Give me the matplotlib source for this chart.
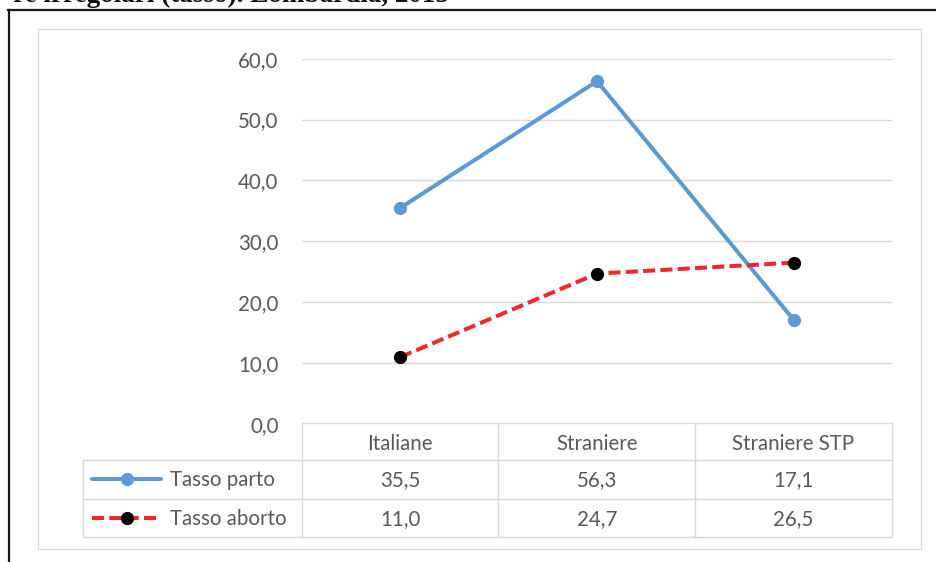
import matplotlib
matplotlib.use("Agg")
import matplotlib.pyplot as plt
from matplotlib.lines import Line2D
from matplotlib.patches import Rectangle

categories = ["Italiane", "Straniere", "Straniere STP"]
series_names = ["Tasso parto", "Tasso aborto"]
tasso_parto = [35.5, 56.3, 17.1]
tasso_aborto = [11.0, 24.7, 26.5]
yticks = [0, 10, 20, 30, 40, 50, 60]
title = "re irregolari (tasso). Lombardia, 2015"

W, H = 937, 562
fig = plt.figure(figsize=(W / 100, H / 100), dpi=100)
FONT = "Lato"
FS = 14.8
GRAY_TXT = "#595959"
GRID = "#D9D9D9"
BLUE = "#5B9BD5"
RED = "#F02828"
DASH = (0, (3.0, 1.3))


def fx(px):
    return px / W


def fy(py):
    return 1 - py / H


# outer black frame (top and left visible)
fig.add_artist(Line2D([fx(8), fx(937)], [fy(10), fy(10)], color="#1a1a1a", lw=1.6))
fig.add_artist(Line2D([fx(9), fx(9)], [fy(10), fy(562)], color="#1a1a1a", lw=1.6))
# cut-off title (only its lower part is visible in the original)
fig.text(fx(13), fy(1.5), title, fontsize=19.5, fontweight="bold",
         family="Liberation Serif", color="#111111", va="baseline", ha="left")

# chart area border
fig.add_artist(Rectangle((fx(38), fy(549)), fx(921) - fx(38), fy(29) - fy(549),
                         fill=False, ec=GRID, lw=1.0))

# plot axes
x0, x1 = 302, 892
y0, y1 = 424, 58.7
ax = fig.add_axes([fx(x0), fy(y0), fx(x1) - fx(x0), fy(y1) - fy(y0)])
ax.set_xlim(-0.5, len(categories) - 0.5)
ax.set_ylim(0, 60)
for s in ax.spines.values():
    s.set_visible(False)
ax.set_xticks([])
ax.set_yticks(yticks)
ax.set_yticklabels([f"{v:.1f}".replace(".", ",") for v in yticks],
                   fontsize=FS, family=FONT, color=GRAY_TXT)
ax.tick_params(axis="y", length=0, pad=17)
ax.grid(axis="y", color=GRID, lw=1.0)
ax.set_axisbelow(True)
xs = list(range(len(categories)))
ax.plot(xs, tasso_parto, color=BLUE, lw=2.9, marker="o", ms=8.5,
        mfc=BLUE, mec=BLUE, solid_capstyle="round", clip_on=False)
ax.plot(xs, tasso_aborto, color=RED, lw=2.9, ls=DASH, marker="o", ms=8.5,
        mfc="black", mec="black", clip_on=False)

# data table
col_edges = [302, 498.5, 695, 892]
legend_left = 83
row_edges = [423, 460, 498.5, 537]
lkw = dict(color=GRID, lw=1.0)
fig.add_artist(Line2D([fx(col_edges[0]), fx(col_edges[-1])], [fy(row_edges[0])] * 2, **lkw))
for r in row_edges[1:]:
    fig.add_artist(Line2D([fx(legend_left), fx(col_edges[-1])], [fy(r)] * 2, **lkw))
for c in col_edges:
    fig.add_artist(Line2D([fx(c)] * 2, [fy(row_edges[0]), fy(row_edges[-1])], **lkw))
fig.add_artist(Line2D([fx(legend_left)] * 2, [fy(row_edges[1]), fy(row_edges[-1])], **lkw))

tkw = dict(fontsize=FS, family=FONT, color=GRAY_TXT, ha="center", va="center")
for i, cat in enumerate(categories):
    cx = (col_edges[i] + col_edges[i + 1]) / 2
    fig.text(fx(cx), fy((row_edges[0] + row_edges[1]) / 2 + 2), cat, **tkw)
    fig.text(fx(cx), fy((row_edges[1] + row_edges[2]) / 2 + 1), f"{tasso_parto[i]:.1f}".replace(".", ","), **tkw)
    fig.text(fx(cx), fy((row_edges[2] + row_edges[3]) / 2 + 1), f"{tasso_aborto[i]:.1f}".replace(".", ","), **tkw)

# legend keys in table
styles = [dict(color=BLUE, ls="-", mfc=BLUE, mec=BLUE),
          dict(color=RED, ls=DASH, mfc="black", mec="black")]
for j, name in enumerate(series_names):
    yc = (row_edges[j + 1] + row_edges[j + 2]) / 2
    st = styles[j]
    fig.add_artist(Line2D([fx(92), fx(161)], [fy(yc)] * 2, color=st["color"], lw=2.9,
                          ls=st["ls"], solid_capstyle="round"))
    fig.add_artist(Line2D([fx(127)], [fy(yc)], marker="o", ms=8.5, mfc=st["mfc"],
                          mec=st["mec"], ls="none"))
    fig.text(fx(170), fy(yc + 1), name, fontsize=FS, family=FONT, color=GRAY_TXT,
             ha="left", va="center")

fig.savefig("out.png", dpi=100)
